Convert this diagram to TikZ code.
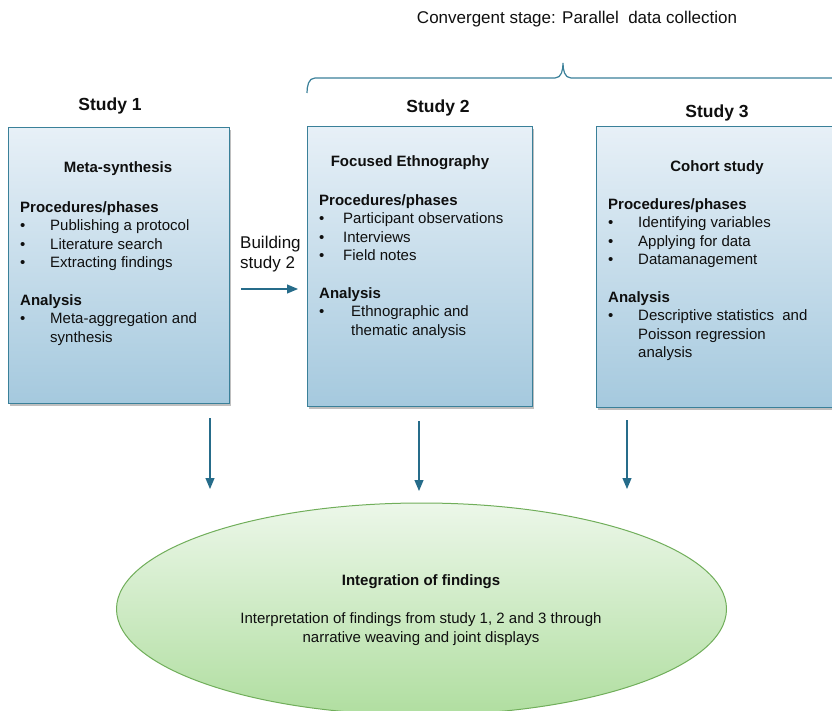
\documentclass[tikz,border=0pt]{standalone}
\usepackage{fontspec}
\setmainfont{Liberation Sans}
\usetikzlibrary{shapes.geometric,shadows,arrows.meta,positioning}
\definecolor{boxtop}{RGB}{231,240,247}
\definecolor{boxbot}{RGB}{165,201,222}
\definecolor{boxline}{RGB}{58,128,153}
\definecolor{elltop}{RGB}{236,247,233}
\definecolor{ellbot}{RGB}{176,222,160}
\definecolor{ellline}{RGB}{112,174,90}
\definecolor{flowcol}{RGB}{38,108,138}
\definecolor{txt}{RGB}{15,15,15}
\newcommand{\bul}[2][30pt]{\makebox[#1][l]{\textbullet}#2}
\newcommand{\bulgap}[1][30pt]{\hspace*{#1}}

\begin{document}
\begin{tikzpicture}[x=1pt,y=-1pt, text=txt,
		font=\fontsize{15}{18.6}\selectfont,
		studybox/.style={draw=boxline, line width=1pt, top color=boxtop, bottom color=boxbot,
			drop shadow={shadow xshift=1.5pt, shadow yshift=-2.5pt, opacity=.5}, inner sep=0pt},
		studyhead/.style={font=\fontsize{17.5}{20}\selectfont\bfseries},
		boxhead/.style={font=\fontsize{15}{18}\selectfont\bfseries},
		steplist/.style={anchor=north west, align=left, inner sep=0pt},
		flow/.style={draw=flowcol, line width=1.1pt, -{Triangle[length=11pt,width=9pt]}},
		brace/.style={draw=boxline, line width=1.2pt}]
	\useasboundingbox (0,0) rectangle (832,711);
	\clip (0,0) rectangle (832,711);

	\node (conv) at (577,19) {\fontsize{17}{20}\selectfont Convergent stage: Parallel\ \ data collection};
	\coordinate (brl) at (307,93);
	\coordinate (brt) at (563,63);
	\coordinate (brr) at (870,78);
	\draw[brace] (brl) to[out=90,in=180] ++(8,-15) -- ([xshift=-8pt]brt |- brr) to[out=0,in=-90] (brt)
		to[out=-90,in=180] ([xshift=8pt]brt |- brr) -- (brr);

	\node[studyhead] (h1) at (110,106) {Study 1};
	\node[studyhead] (h2) at (438,108) {Study 2};
	\node[studyhead] (h3) at (717,113) {Study 3};

	\node[studybox, minimum width=221pt, minimum height=275pt] (s1) at (118.5,265.5) {};
	\node[studybox, minimum width=225pt, minimum height=279pt] (s2) at (419.5,266.5) {};
	\node[studybox, minimum width=320pt, minimum height=280pt] (s3) at (756,267) {};

	\node[boxhead] (t1) at (118,169) {Meta-synthesis};
	\node[steplist] (l1) at (20,201) {\textbf{Procedures/phases}\\
		\bul{Publishing a protocol}\\
		\bul{Literature search}\\
		\bul{Extracting findings}\\[18.6pt]
		\textbf{Analysis}\\
		\bul{Meta-aggregation and}\\
		\bulgap synthesis};

	\node[boxhead] (t2) at (410,163) {Focused Ethnography};
	\node[steplist] (l2) at (319,194) {\textbf{Procedures/phases}\\
		\bul[24pt]{Participant observations}\\
		\bul[24pt]{Interviews}\\
		\bul[24pt]{Field notes}\\[18.6pt]
		\textbf{Analysis}\\
		\bul[32pt]{Ethnographic and}\\
		\bulgap[32pt]thematic analysis};

	\node[boxhead] (t3) at (717,168) {Cohort study};
	\node[steplist] (l3) at (608,198) {\textbf{Procedures/phases}\\
		\bul{Identifying variables}\\
		\bul{Applying for data}\\
		\bul{Datamanagement}\\[18.6pt]
		\textbf{Analysis}\\
		\bul{Descriptive statistics\ \ and}\\
		\bulgap Poisson regression\\
		\bulgap analysis};

	\node[anchor=north west, align=left, inner sep=0pt, font=\fontsize{17}{19.5}\selectfont] (bld) at (240,236) {Building\\study 2};
	\coordinate (b0) at (241,289);
	\coordinate (b1) at (298,289);
	\draw[flow] (b0) -- (b1);

	\node[ellipse, draw=ellline, line width=1pt, top color=elltop, bottom color=ellbot,
		minimum width=610pt, minimum height=212pt, inner sep=0pt] (int) at (421.5,609) {};
	\node[font=\fontsize{15}{18}\selectfont\bfseries] (it) at (421,582) {Integration of findings};
	\node[align=center, font=\fontsize{15}{19}\selectfont] (ix) at (421,629) {Interpretation of findings from study 1, 2 and 3 through\\narrative weaving and joint displays};

	\coordinate (d1) at (210,418);
	\coordinate (e1) at (210,489);
	\coordinate (d2) at (419,421);
	\coordinate (e2) at (419,491);
	\coordinate (d3) at (627,420);
	\coordinate (e3) at (627,489);
	\draw[flow] (d1) -- (e1);
	\draw[flow] (d2) -- (e2);
	\draw[flow] (d3) -- (e3);
\end{tikzpicture}
\end{document}
